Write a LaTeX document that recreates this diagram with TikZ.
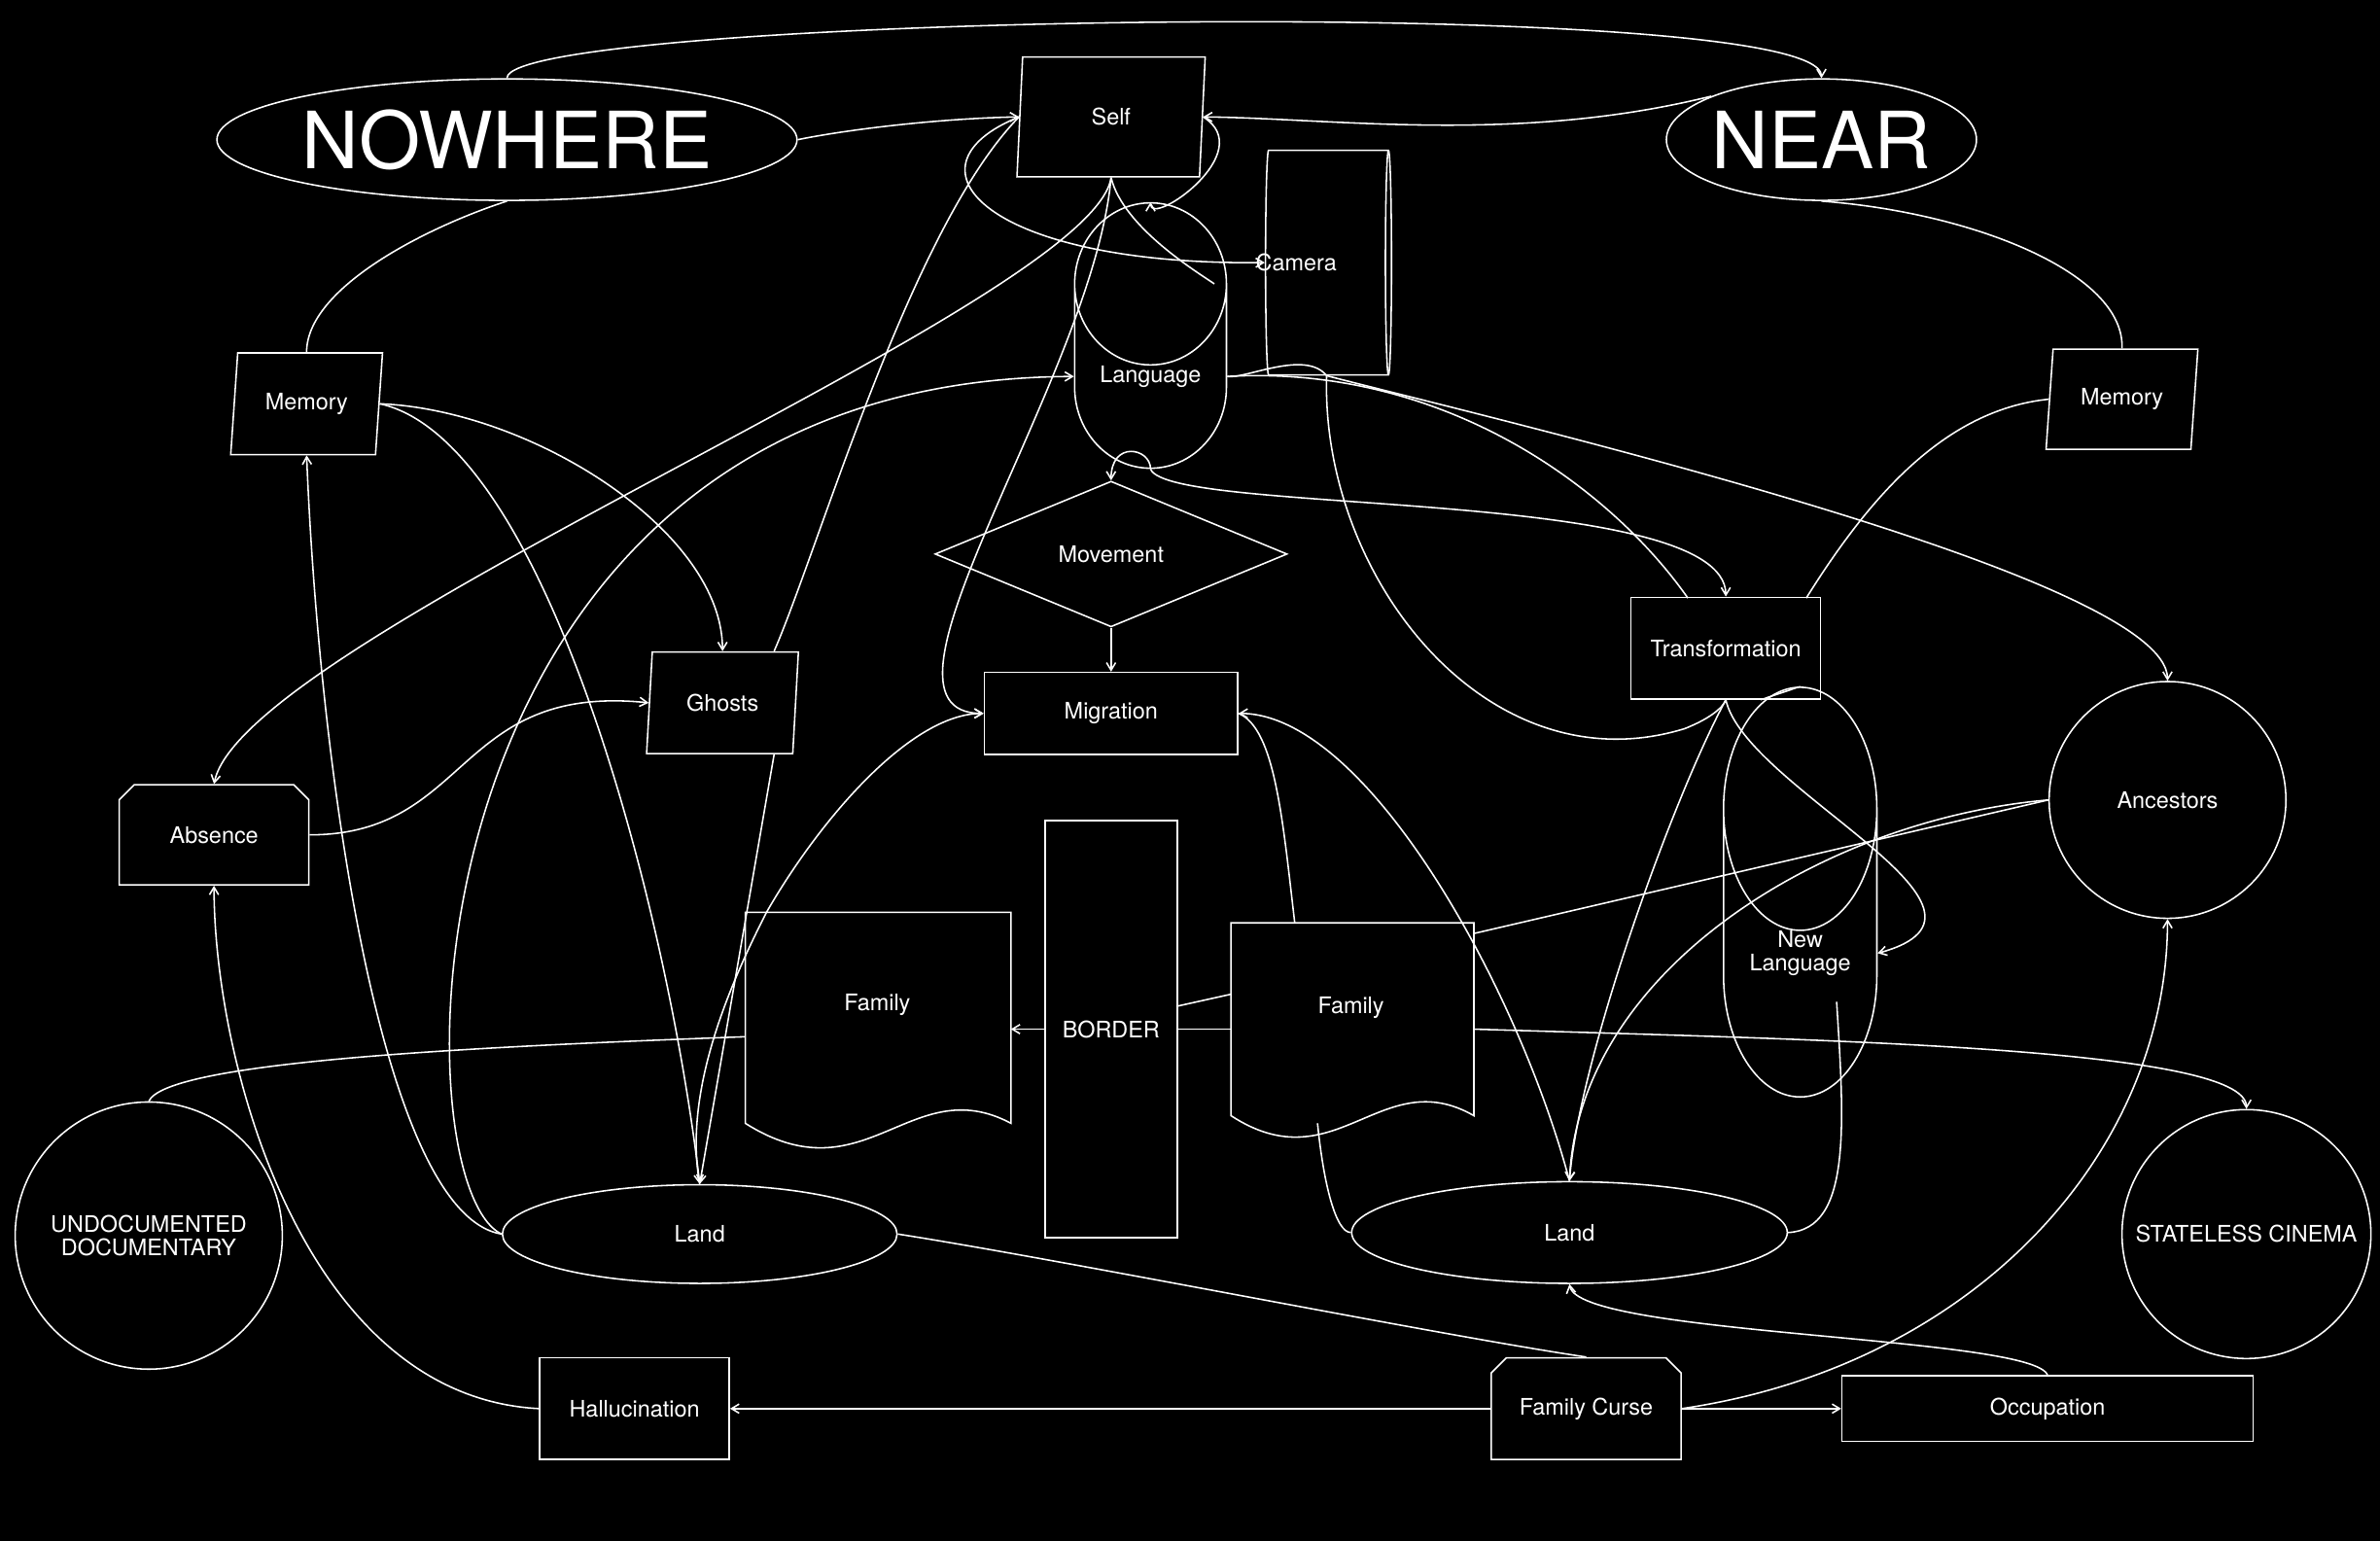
\documentclass[tikz,border=0pt]{standalone}
\usepackage{fontspec}
\setmainfont{TeX Gyre Heros}
\usetikzlibrary{shapes.geometric,shapes.misc,arrows.meta}
\tikzset{every picture/.style={line width=1pt}}
\tikzset{
  box/.style={draw=white,text=white,font=\fontsize{15}{17}\selectfont,align=center,inner sep=0pt},
  para/.style={box,trapezium,trapezium left angle=72,trapezium right angle=108,trapezium stretches body},
  chamf/.style={box,chamfered rectangle,chamfered rectangle corners={north west,north east},chamfered rectangle xsep=5pt,chamfered rectangle ysep=5pt},
  cyl/.style={box,cylinder,shape aspect=0.35},
  big/.style={draw=white,text=white,ellipse,font=\fontsize{52}{56}\selectfont,inner sep=0pt},
  arr/.style={-{Straight Barb[length=5pt,width=6pt]}},
  edge/.style={draw=white}
}
\begin{document}
\begin{tikzpicture}[x=1pt,y=-1pt]
\fill[black] (0,0) rectangle (1568,1015);
\useasboundingbox (0,0) rectangle (1568,1015);

% Nodes
\node[big,minimum width=312,minimum height=80] (nowhere) at (334,92) {NOWHERE};
\node[big,minimum width=188,minimum height=80] (near) at (1200,92) {NEAR};
\node[para,minimum width=124,minimum height=79] (self) at (732,77) {Self};
\node[cyl,minimum width=148,minimum height=83] (camera) at (874,173) {\hspace*{-40pt}Camera};
\node[cyl,shape border rotate=90,minimum width=100,minimum height=65,shape aspect=1.6] (lang) at (758,248) {Language};
\node[box,diamond,aspect=2.4,minimum width=232,minimum height=96] (move) at (732,365) {Movement};
\node[box,rectangle,minimum width=167,minimum height=54] (migr) at (732,470) {Migration};
\node[para,minimum width=100,minimum height=67] (memL) at (202,266) {Memory};
\node[para,minimum width=100,minimum height=66] (memR) at (1398,263) {Memory};
\node[box,minimum width=125,minimum height=67] (trans) at (1137,427) {Transformation};
\node[para,minimum width=100,minimum height=67] (ghosts) at (476,463) {Ghosts};
\node[chamf,minimum width=125,minimum height=66] (absence) at (141,550) {Absence};
\node[box,circle,minimum size=156] (anc) at (1428,527) {Ancestors};
\node[box,minimum width=87,minimum height=275] (border) at (732,678) {BORDER};
\node[cyl,shape border rotate=90,minimum width=101,minimum height=64,shape aspect=2.4] (newlang) at (1186,628) {New\\[-2pt]Language};
\node[box,circle,minimum size=176] (undoc) at (98,814) {UNDOCUMENTED\\[-2pt]DOCUMENTARY};
\node[box,circle,minimum size=164] (stateless) at (1480,813) {STATELESS CINEMA};
\node[box,ellipse,minimum width=260,minimum height=65] (landL) at (461,813) {Land};
\node[box,ellipse,minimum width=287,minimum height=67] (landR) at (1034,812) {Land};
\node[box,minimum width=125,minimum height=67] (hall) at (418,928) {Hallucination};
\node[chamf,minimum width=125,minimum height=67] (curse) at (1045,928) {Family Curse};
\node[box,minimum width=271,minimum height=43] (occ) at (1349,928) {Occupation};

% Family documents
\draw[white] (491,601) -- (666,601) -- (666,740) .. controls (600,705) and (570,790) .. (491,740) -- cycle;
\node[box,draw=none] (famL) at (578,662) {Family};
\draw[white] (811,608) -- (971,608) -- (971,735) .. controls (910,700) and (880,780) .. (811,735) -- cycle;
\node[box,draw=none] (famR) at (890,664) {Family};
\coordinate (famLw) at (491,683);
\coordinate (famLe) at (666,678);
\coordinate (famLn) at (505,601);
\coordinate (famRw) at (811,678);
\coordinate (famRn) at (853,608);
\coordinate (famRne) at (971,615);
\coordinate (famRe) at (971,678);
\coordinate (famRs) at (868,740);

% Connectors
\draw[edge,arr] (nowhere.north) .. controls (334,10) and (1200,-5) .. (near.north);
\draw[edge,arr] (nowhere.east) .. controls (560,85) and (620,78) .. (self.west);
\draw[edge,arr] (near.north west) .. controls (1000,95) and (880,78) .. (self.east);
\draw[edge,arr] (self.east) .. controls (830,100) and (758,150) .. (lang.north);
\draw[edge,arr] (self.west) .. controls (590,110) and (650,175) .. (camera.west);
\draw[edge] (self.south) .. controls (740,150) and (790,180) .. (800,187);
\draw[edge,arr] (self.south) .. controls (720,200) and (160,420) .. (absence.north);
\draw[edge,arr] (self.south) .. controls (720,250) and (560,470) .. (migr.west);
\draw[edge] (ghosts.north east) .. controls (540,360) and (600,150) .. (self.west);
\draw[edge,arr] (ghosts.south east) -- (landL.north);
\draw[edge] (camera.south) .. controls (860,230) and (820,250) .. (lang.east);
\draw[edge,arr] (lang.south) .. controls (758,295) and (732,290) .. (move.north);
\draw[edge,arr] (landL.west) .. controls (260,780) and (260,250) .. (lang.west);
\draw[edge] (lang.east) .. controls (950,240) and (1060,320) .. (1112,394);
\draw[edge,arr] (lang.south) .. controls (770,340) and (1137,320) .. (trans.north);
\draw[edge,arr] (move.south) -- (migr.north);
\draw[edge] (camera.south) .. controls (870,380) and (980,520) .. (1110,480) .. controls (1135,470) and (1137,461) .. (trans.south);
\draw[edge,arr] (camera.south) .. controls (1000,280) and (1428,380) .. (anc.north);
\draw[edge] (near.south) .. controls (1300,140) and (1400,180) .. (memR.north);
\draw[edge] (memR.west) .. controls (1280,270) and (1230,330) .. (1190,394);
\draw[edge] (nowhere.south) .. controls (280,150) and (202,190) .. (memL.north);
\draw[edge,arr] (memL.east) .. controls (350,270) and (476,350) .. (ghosts.north);
\draw[edge,arr] (memL.east) .. controls (360,290) and (440,600) .. (landL.north);
\draw[edge,arr] (landL.west) .. controls (250,800) and (210,500) .. (memL.south);
\draw[edge,arr] (absence.east) .. controls (310,550) and (300,450) .. (ghosts.west);
\draw[edge] (landL.north) .. controls (450,720) and (480,650) .. (famLn);
\draw[edge,arr] (famLn) .. controls (540,540) and (600,470) .. (migr.west);
\draw[edge,arr] (landR.north) .. controls (1000,650) and (900,470) .. (migr.east);
\draw[edge] (famRn) .. controls (845,540) and (840,480) .. (migr.east);
\draw[edge,arr] (border.west) -- (famLe);
\draw[edge] (border.east) -- (famRw);
\draw[edge] (811,655) -- (775,663);
\draw[edge] (famLw) .. controls (300,690) and (110,700) .. (undoc.north);
\draw[edge,arr] (famRe) .. controls (1200,685) and (1480,690) .. (stateless.north);
\draw[edge] (famRne) -- (anc.west);
\draw[edge,arr] (anc.west) .. controls (1200,540) and (1040,640) .. (landR.north);
\draw[edge,arr] (trans.south) .. controls (1100,530) and (1040,700) .. (landR.north);
\draw[edge,arr] (trans.south) .. controls (1150,520) and (1340,600) .. (newlang.east);
\draw[edge] (1160,461) -- (newlang.north);
\draw[edge] (1210,660) .. controls (1215,740) and (1220,810) .. (landR.east);
\draw[edge] (famRs) .. controls (872,780) and (880,812) .. (landR.west);
\draw[edge] (landL.east) .. controls (700,830) and (950,880) .. (curse.north);
\draw[edge,arr] (curse.west) -- (hall.east);
\draw[edge,arr] (curse.east) -- (occ.west);
\draw[edge,arr] (curse.east) .. controls (1300,900) and (1428,760) .. (anc.south);
\draw[edge,arr] (occ.north) .. controls (1340,880) and (1040,880) .. (landR.south);
\draw[edge,arr] (hall.west) .. controls (200,920) and (141,700) .. (absence.south);
\end{tikzpicture}
\end{document}
